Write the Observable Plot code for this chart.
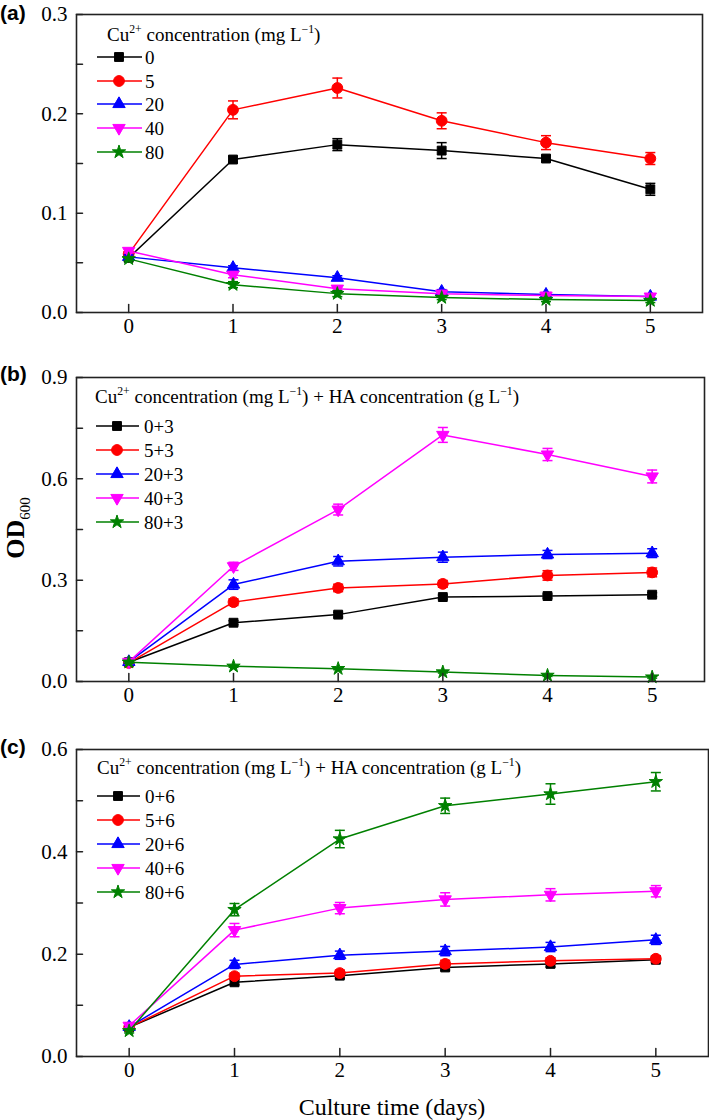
<!DOCTYPE html>
<html><head><meta charset="utf-8">
<script src="https://cdn.jsdelivr.net/npm/d3@7"></script>
<script src="https://cdn.jsdelivr.net/npm/@observablehq/plot@0.6"></script>
<style>
body{margin:0;background:#fff;}
#wrap{position:relative;width:709px;height:1120px;overflow:hidden;}
.pan{position:absolute;left:0;}
#ov{position:absolute;left:0;top:0;}
</style></head><body><div id="wrap"></div>
<script>
// ---------- data ----------
const days = [0, 1, 2, 3, 4, 5];
const colors = ["#000000", "#ff0000", "#0000ff", "#ff00ff", "#008000"];
const markers = ["square", "circle", "triangle", "triangleDown", "star"];

// Panel (a): Cu2+ only
const seriesA = ["0", "5", "20", "40", "80"];
const a_0  = [0.055, 0.154, 0.169, 0.163, 0.155, 0.124];
const a_5  = [0.059, 0.204, 0.226, 0.193, 0.171, 0.155];
const a_20 = [0.056, 0.045, 0.035, 0.021, 0.018, 0.016];
const a_40 = [0.062, 0.038, 0.024, 0.019, 0.017, 0.016];
const a_80 = [0.054, 0.028, 0.019, 0.015, 0.013, 0.012];
const a_0_err  = [0.002, 0.003, 0.006, 0.008, 0.003, 0.006];
const a_5_err  = [0.002, 0.009, 0.010, 0.008, 0.007, 0.006];
const a_20_err = [0.002, 0.002, 0.002, 0.002, 0.002, 0.002];
const a_40_err = [0.002, 0.003, 0.002, 0.002, 0.002, 0.002];
const a_80_err = [0.002, 0.003, 0.003, 0.002, 0.002, 0.002];

// Panel (b): Cu2+ + HA 3 g/L
const seriesB = ["0+3", "5+3", "20+3", "40+3", "80+3"];
const b_0  = [0.057, 0.174, 0.198, 0.250, 0.253, 0.257];
const b_5  = [0.055, 0.235, 0.277, 0.289, 0.314, 0.323];
const b_20 = [0.058, 0.287, 0.356, 0.368, 0.376, 0.380];
const b_40 = [0.058, 0.341, 0.509, 0.730, 0.672, 0.607];
const b_80 = [0.057, 0.045, 0.038, 0.028, 0.018, 0.013];
const b_0_err  = [0.004, 0.006, 0.007, 0.006, 0.006, 0.006];
const b_5_err  = [0.004, 0.010, 0.011, 0.010, 0.014, 0.013];
const b_20_err = [0.004, 0.014, 0.014, 0.015, 0.012, 0.013];
const b_40_err = [0.005, 0.012, 0.016, 0.022, 0.018, 0.019];
const b_80_err = [0.003, 0.003, 0.003, 0.003, 0.003, 0.003];

// Panel (c): Cu2+ + HA 6 g/L
const seriesC = ["0+6", "5+6", "20+6", "40+6", "80+6"];
const c_0  = [0.057, 0.145, 0.158, 0.174, 0.181, 0.189];
const c_5  = [0.057, 0.157, 0.163, 0.181, 0.187, 0.191];
const c_20 = [0.058, 0.180, 0.198, 0.206, 0.214, 0.228];
const c_40 = [0.060, 0.247, 0.290, 0.307, 0.316, 0.323];
const c_80 = [0.050, 0.287, 0.425, 0.490, 0.513, 0.537];
const c_0_err  = [0.004, 0.005, 0.005, 0.005, 0.006, 0.005];
const c_5_err  = [0.004, 0.006, 0.006, 0.007, 0.006, 0.006];
const c_20_err = [0.004, 0.008, 0.008, 0.009, 0.009, 0.009];
const c_40_err = [0.004, 0.013, 0.011, 0.013, 0.012, 0.011];
const c_80_err = [0.004, 0.012, 0.017, 0.015, 0.020, 0.018];

// axis ticks
const xTicks = [0, 1, 2, 3, 4, 5];
const yMajorA = [0, 0.1, 0.2, 0.3], yMinorA = [0.05, 0.15, 0.25];
const yMajorB = [0, 0.3, 0.6, 0.9], yMinorB = [0.15, 0.45, 0.75];
const yMajorC = [0, 0.2, 0.4, 0.6], yMinorC = [0.1, 0.3, 0.5];

// ---------- helpers ----------
const SERIF = "'Liberation Serif', 'Times New Roman', serif";
const sqrt3 = Math.sqrt(3);
const triangleDown = {
  draw(ctx, size) {
    const y = -Math.sqrt(size / (sqrt3 * 3));
    ctx.moveTo(0, -y * 2);
    ctx.lineTo(-sqrt3 * y, y);
    ctx.lineTo(sqrt3 * y, y);
    ctx.closePath();
  }
};
const symOf = (name) => name === "triangleDown" ? triangleDown : name;
const d3SymOf = (name) => ({square: d3.symbolSquare, circle: d3.symbolCircle, triangle: d3.symbolTriangle, star: d3.symbolStar, triangleDown: triangleDown})[name];
const markerR = (name) => name === "circle" ? 5.4 : name === "star" ? 4.2 : name === "square" ? 5.0 : 4.6;
const capSym = {draw(ctx) { ctx.moveTo(-5, 0); ctx.lineTo(5, 0); }};
const tickShape = {draw(ctx, l) { ctx.moveTo(0, 0); ctx.lineTo(0, -l); }};

function makePanel(cfg) {
  const data = cfg.series.flatMap((s, i) => days.map((d, j) => ({series: s, idx: i, x: d, y: cfg.values[i][j], e: cfg.errors[i][j]})));
  const marks = [];
  cfg.series.forEach((s, i) => {
    const sd = data.filter(d => d.idx === i);
    const c = colors[i];
    marks.push(Plot.line(sd, {x: "x", y: "y", stroke: c, strokeWidth: 1.5}));
    marks.push(Plot.ruleX(sd, {x: "x", y1: d => d.y - d.e, y2: d => d.y + d.e, stroke: c, strokeWidth: 1.5}));
    marks.push(Plot.dot(sd, {x: "x", y: d => d.y + d.e, symbol: capSym, r: 5, stroke: c, strokeWidth: 1.5}));
    marks.push(Plot.dot(sd, {x: "x", y: d => d.y - d.e, symbol: capSym, r: 5, stroke: c, strokeWidth: 1.5}));
    marks.push(Plot.dot(sd, {x: "x", y: "y", symbol: symOf(markers[i]), r: markerR(markers[i]), fill: c, stroke: c, strokeWidth: 1}));
  });
  const plot = Plot.plot({
    width: 709, height: cfg.height,
    marginLeft: 76, marginRight: cfg.mr, marginTop: cfg.mt, marginBottom: cfg.mb,
    x: {domain: [-0.5, 5.5]},
    y: {domain: cfg.yDomain},
    style: {fontFamily: SERIF, fontSize: "21px", color: "#000", background: "transparent", overflow: "visible"},
    marks: [
      ...marks,
      Plot.axisY(cfg.yMajor, {tickSize: 0, tickPadding: 9, tickFormat: d => d.toFixed(1), fontSize: 21, label: null}),
      Plot.axisX(xTicks, {tickSize: 0, tickPadding: 6, tickFormat: d => String(d), fontSize: 21, label: null}),
      Plot.vector(xTicks, {x: d => d, y: () => cfg.yDomain[0], length: 8, rotate: 0, anchor: "start", shape: tickShape, stroke: "#222", strokeWidth: 1.5}),
      Plot.vector(cfg.yMajor.concat(cfg.yMinor), {x: () => -0.5, y: d => d, length: 6, rotate: 90, anchor: "start", shape: tickShape, stroke: "#222", strokeWidth: 1.5}),
      Plot.frame({stroke: "#222", strokeWidth: 1.6})
    ]
  });
  plot.style.fontSize = "21px";
  const div = document.createElement("div");
  div.className = "pan";
  div.style.top = cfg.top + "px";
  div.appendChild(plot);
  document.getElementById("wrap").appendChild(div);
}

makePanel({top: 0, height: 350, mt: 14, mb: 38, mr: 7, yDomain: [0, 0.3], yMajor: yMajorA, yMinor: yMinorA,
  series: seriesA, values: [a_0, a_5, a_20, a_40, a_80], errors: [a_0_err, a_5_err, a_20_err, a_40_err, a_80_err]});
makePanel({top: 350, height: 369, mt: 27, mb: 38, mr: 5, yDomain: [0, 0.9], yMajor: yMajorB, yMinor: yMinorB,
  series: seriesB, values: [b_0, b_5, b_20, b_40, b_80], errors: [b_0_err, b_5_err, b_20_err, b_40_err, b_80_err]});
makePanel({top: 719, height: 401, mt: 30, mb: 64, mr: 1, yDomain: [0, 0.6], yMajor: yMajorC, yMinor: yMinorC,
  series: seriesC, values: [c_0, c_5, c_20, c_40, c_80], errors: [c_0_err, c_5_err, c_20_err, c_40_err, c_80_err]});

// ---------- overlay: legends, panel labels, axis titles ----------
const ov = d3.select("#wrap").append("svg").attr("id", "ov").attr("width", 709).attr("height", 1120)
  .style("font-family", SERIF);

function richText(g, x, y, parts, size) {
  const t = g.append("text").attr("x", x).attr("y", y).attr("font-size", size).attr("fill", "#000");
  let prevSup = false;
  parts.forEach(([txt, sup]) => {
    const ts = t.append("tspan").text(txt);
    if (sup) { ts.attr("font-size", size * 0.62).attr("dy", -size * 0.42); }
    else if (prevSup) { ts.attr("dy", size * 0.42); }
    prevSup = sup;
  });
  return t;
}

const titleCu = [["Cu", false], ["2+", true], [" concentration (mg L", false], ["\u22121", true], [")", false]];
const titleCuHA = [...titleCu, [" + HA concentration (g L", false], ["\u22121", true], [")", false]];

function legend(L) {
  const g = ov.append("g");
  richText(g, L.titleX, L.titleY + 6, L.title, 19);
  L.labels.forEach((lab, i) => {
    const y = L.rows[i];
    g.append("line").attr("x1", L.lx1).attr("x2", L.lx2).attr("y1", y).attr("y2", y).attr("stroke", colors[i]).attr("stroke-width", 1.5);
    const r = markerR(markers[i]);
    g.append("path").attr("d", d3.symbol(d3SymOf(markers[i]), Math.PI * r * r)())
      .attr("transform", `translate(${L.mx},${y})`).attr("fill", colors[i]).attr("stroke", colors[i]);
    g.append("text").attr("x", L.tx).attr("y", y + 6.5).attr("font-size", 19).attr("fill", "#000").text(lab);
  });
}
legend({title: titleCu, labels: seriesA, titleX: 107, titleY: 35, rows: [57, 81, 104, 128, 152], lx1: 97, lx2: 142, mx: 119, tx: 145});
legend({title: titleCuHA, labels: seriesB, titleX: 95, titleY: 397, rows: [426, 450, 474, 498, 522], lx1: 96, lx2: 139, mx: 117, tx: 144});
legend({title: titleCuHA, labels: seriesC, titleX: 97, titleY: 768, rows: [796, 820, 844, 868, 892], lx1: 97, lx2: 140, mx: 118, tx: 145});

// panel labels
[["(a)", 12], ["(b)", 373], ["(c)", 746]].forEach(([t, y]) => {
  ov.append("text").attr("x", 0).attr("y", y + 7.5).attr("font-family", "'Liberation Sans', Arial, sans-serif")
    .attr("font-weight", "bold").attr("font-size", 21).attr("fill", "#000").text(t);
});

// y title OD600
const od = ov.append("text").attr("transform", "translate(24,528) rotate(-90)").attr("text-anchor", "middle")
  .attr("font-size", 26).attr("font-weight", "bold").attr("fill", "#000");
od.append("tspan").text("OD");
od.append("tspan").attr("font-size", 15).attr("font-weight", "normal").attr("dy", 6).text("600");

// x title
ov.append("text").attr("x", 392).attr("y", 1115).attr("text-anchor", "middle").attr("font-size", 24).attr("fill", "#000")
  .text("Culture time (days)");
</script></body></html>
